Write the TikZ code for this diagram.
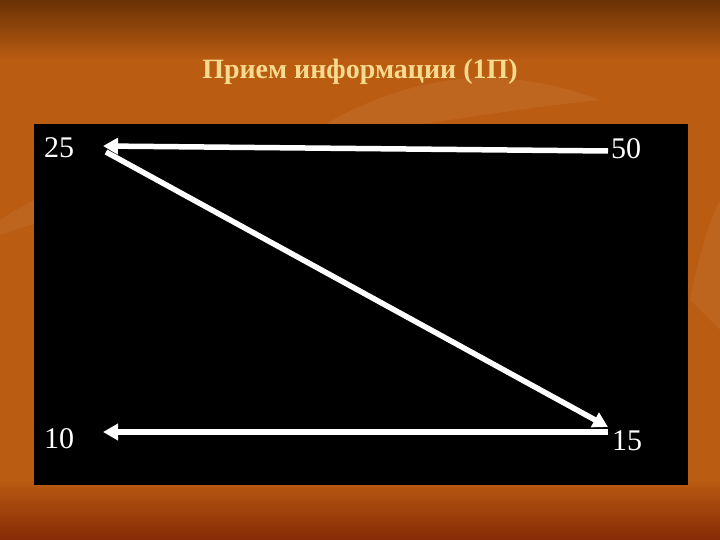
\documentclass[tikz,border=0pt]{standalone}
\usepackage{fontspec}
\setmainfont{Liberation Serif}
\usetikzlibrary{arrows.meta}
\definecolor{bgmid}{HTML}{BA5C12}
\definecolor{bgtop}{HTML}{6A3205}
\definecolor{bgbot}{HTML}{862A06}
\definecolor{titlecol}{HTML}{F6DA8E}
\tikzset{
  num/.style={text=white,font=\fontsize{30}{30}\selectfont,inner sep=0pt},
  wa/.style={draw=white,line width=5.5pt,-{Triangle[length=15pt,width=16pt]}},
}
\begin{document}
\begin{tikzpicture}[x=1pt,y=-1pt]
\useasboundingbox (0,0) rectangle (720,540);
% background
\fill[bgmid] (0,0) rectangle (720,540);
\shade[top color=bgtop,bottom color=bgmid] (0,0) rectangle (720,60);
\shade[top color=bgmid,bottom color=bgbot] (0,480) rectangle (720,540);
\fill[white,opacity=0.06] (300,140) .. controls (420,60) and (520,70) .. (600,100) .. controls (500,110) and (400,130) .. (300,140) -- cycle;
\fill[white,opacity=0.05] (0,220) .. controls (60,180) and (120,170) .. (180,175) .. controls (110,200) and (60,215) .. (0,235) -- cycle;
\fill[white,opacity=0.05] (690,300) .. controls (700,250) and (710,220) .. (720,200) -- (720,330) -- cycle;
% title
\node[text=titlecol,font=\bfseries\fontsize{28}{28}\selectfont] (title) at (360,72) {Прием информации (1П)};
% black panel
\fill[black] (34,124) rectangle (688,485);
% numbers
\node[num] (n25) at (59,148) {25};
\node[num] (n50) at (626,149) {50};
\node[num] (n10) at (59,439) {10};
\node[num] (n15) at (627,441) {15};
% arrow anchors
\coordinate (a50) at (608,151);
\coordinate (a25) at (103,146);
\coordinate (d25) at (106,152);
\coordinate (d15) at (608,427);
\coordinate (a15) at (608,432);
\coordinate (a10) at (103,432);
\draw[wa] (a50) -- (a25);
\draw[wa] (d25) -- (d15);
\draw[wa] (a15) -- (a10);
\end{tikzpicture}
\end{document}
